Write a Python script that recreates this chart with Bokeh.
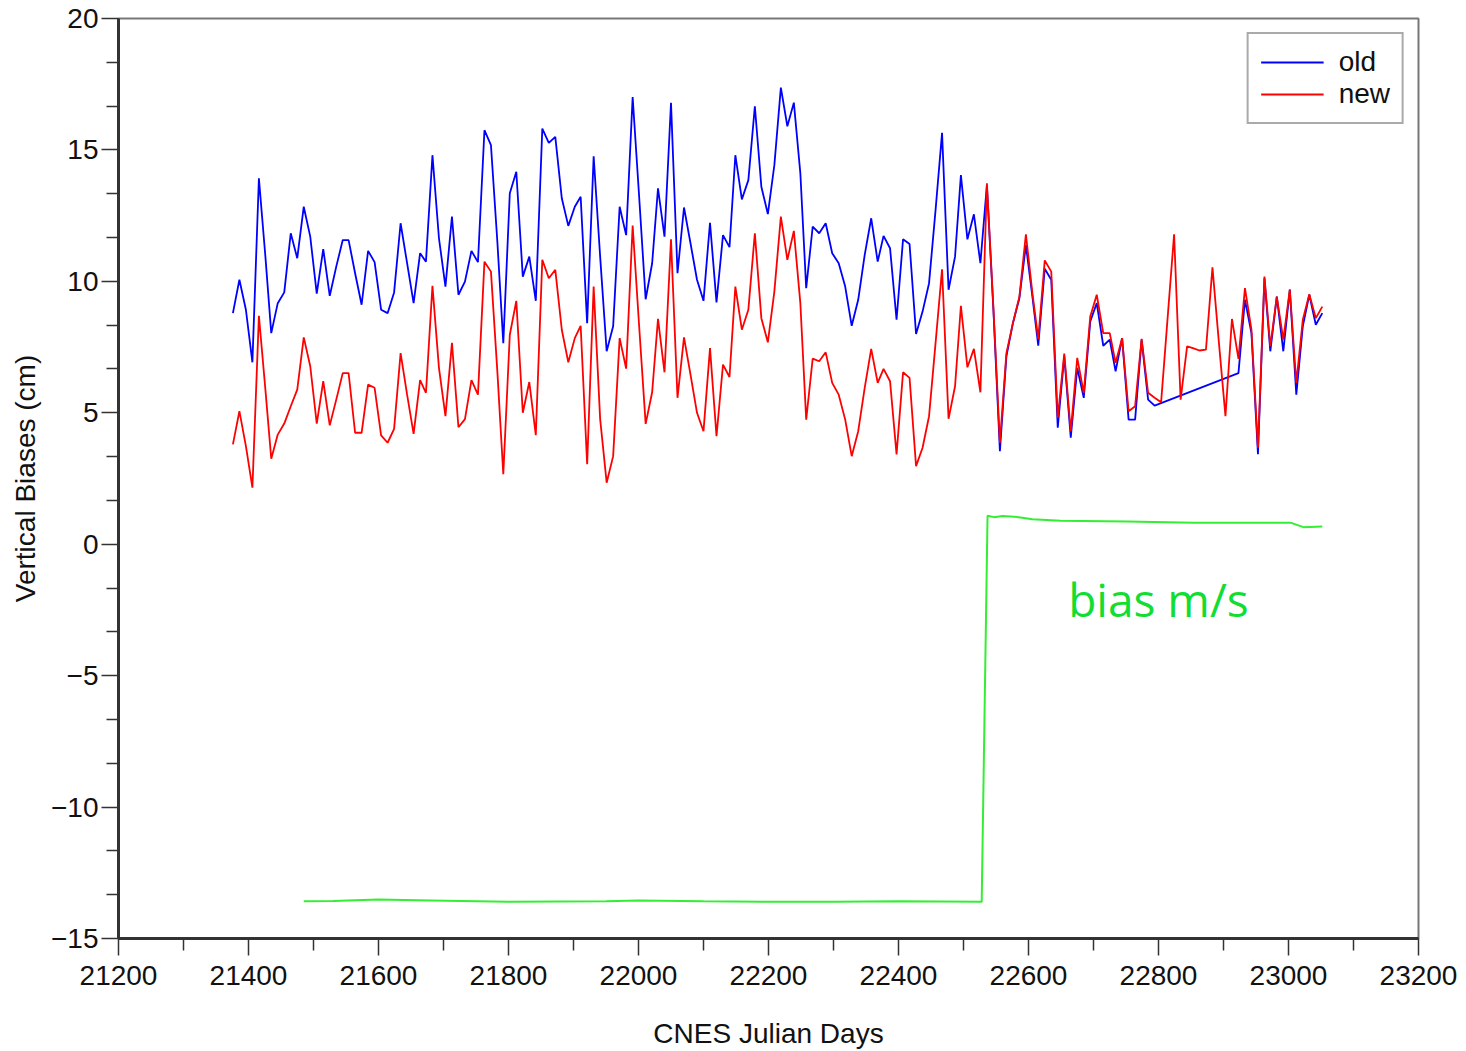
from bokeh.plotting import figure
from bokeh.models import FixedTicker, Label, Range1d
from bokeh.embed import file_html
from bokeh.resources import INLINE

# ---------------- data ----------------
new_days = [21376, 21386, 21396, 21406, 21416, 21426, 21435, 21445, 21455, 21465,
            21475, 21485, 21495, 21505, 21515, 21525, 21535, 21545, 21554, 21564,
            21574, 21584, 21594, 21604, 21614, 21624, 21634, 21644, 21654, 21664,
            21673, 21683, 21693, 21703, 21713, 21723, 21733, 21743, 21753, 21763,
            21773, 21783, 21792, 21802, 21812, 21822, 21832, 21842, 21852, 21862,
            21872, 21882, 21892, 21902, 21911, 21921, 21931, 21941, 21951, 21961,
            21971, 21981, 21991, 22001, 22011, 22021, 22030, 22040, 22050, 22060,
            22070, 22080, 22090, 22100, 22110, 22120, 22130, 22140, 22149, 22159,
            22169, 22179, 22189, 22199, 22209, 22219, 22229, 22239, 22249, 22258,
            22268, 22278, 22288, 22298, 22308, 22318, 22328, 22338, 22348, 22358,
            22368, 22377, 22387, 22397, 22407, 22417, 22427, 22437, 22447, 22457,
            22467, 22477, 22487, 22496, 22506, 22516, 22526, 22536, 22546, 22556,
            22566, 22576, 22586, 22596, 22606, 22615, 22625, 22635, 22645, 22655,
            22665, 22675, 22685, 22695, 22705, 22715, 22725, 22734, 22744, 22754,
            22764, 22774, 22784, 22794, 22804, 22814, 22824, 22834, 22844, 22853,
            22863, 22873, 22883, 22893, 22903, 22913, 22923, 22933, 22943, 22953,
            22963, 22972, 22982, 22992, 23002, 23012, 23022, 23032, 23042, 23052]

new_bias = [3.80, 5.06, 3.73, 2.15, 8.69, 5.88, 3.25, 4.17, 4.59, 5.25,
            5.88, 7.87, 6.77, 4.59, 6.20, 4.52, 5.50, 6.51, 6.51, 4.24,
            4.24, 6.07, 5.95, 4.14, 3.86, 4.39, 7.27, 5.69, 4.20, 6.24,
            5.76, 9.83, 6.71, 4.87, 7.66, 4.45, 4.76, 6.24, 5.69, 10.75,
            10.37, 6.51, 2.66, 7.97, 9.26, 5.00, 6.17, 4.15, 10.82, 10.12,
            10.44, 8.16, 6.92, 7.84, 8.31, 3.04, 9.80, 4.76, 2.34, 3.35,
            7.84, 6.68, 12.12, 8.29, 4.58, 5.78, 8.57, 6.54, 11.60, 5.57,
            7.87, 6.45, 5.00, 4.30, 7.46, 4.11, 6.83, 6.36, 9.80, 8.16,
            8.92, 11.83, 8.60, 7.68, 9.61, 12.46, 10.82, 11.92, 9.17, 4.74,
            7.06, 6.96, 7.30, 6.14, 5.69, 4.74, 3.35, 4.30, 5.95, 7.43,
            6.14, 6.67, 6.20, 3.42, 6.54, 6.33, 2.97, 3.67, 4.87, 7.65,
            10.46, 4.77, 6.01, 9.07, 6.73, 7.43, 5.78, 13.73, 9.00, 3.86,
            7.27, 8.41, 9.42, 11.79, 9.55, 7.81, 10.80, 10.37, 4.81, 7.25,
            4.30, 7.09, 5.76, 8.66, 9.49, 8.03, 8.03, 6.90, 7.84, 5.06,
            5.25, 7.81, 5.76, 5.57, 5.40, 8.60, 11.79, 5.50, 7.53, 7.46,
            7.37, 7.40, 10.53, 7.65, 4.87, 8.57, 7.05, 9.74, 8.16, 3.67,
            10.18, 7.53, 9.42, 7.78, 9.70, 6.14, 8.54, 9.51, 8.60, 9.04]

old_days = [21376, 21386, 21396, 21406, 21416, 21426, 21435, 21445, 21455, 21465,
            21475, 21485, 21495, 21505, 21515, 21525, 21535, 21545, 21554, 21564,
            21574, 21584, 21594, 21604, 21614, 21624, 21634, 21644, 21654, 21664,
            21673, 21683, 21693, 21703, 21713, 21723, 21733, 21743, 21753, 21763,
            21773, 21783, 21792, 21802, 21812, 21822, 21832, 21842, 21852, 21862,
            21872, 21882, 21892, 21902, 21911, 21921, 21931, 21941, 21951, 21961,
            21971, 21981, 21991, 22001, 22011, 22021, 22030, 22040, 22050, 22060,
            22070, 22080, 22090, 22100, 22110, 22120, 22130, 22140, 22149, 22159,
            22169, 22179, 22189, 22199, 22209, 22219, 22229, 22239, 22249, 22258,
            22268, 22278, 22288, 22298, 22308, 22318, 22328, 22338, 22348, 22358,
            22368, 22377, 22387, 22397, 22407, 22417, 22427, 22437, 22447, 22457,
            22467, 22477, 22487, 22496, 22506, 22516, 22526, 22536, 22546, 22556,
            22566, 22576, 22586, 22596, 22606, 22615, 22625, 22635, 22645, 22655,
            22665, 22675, 22685, 22695, 22705, 22715, 22725, 22734, 22744, 22754,
            22764, 22774, 22784, 22794,
            22923, 22933, 22943, 22953,
            22963, 22972, 22982, 22992, 23002, 23012, 23022, 23032, 23042, 23052]

old_bias = [8.79, 10.06, 8.92, 6.92, 13.92, 10.94, 8.03, 9.17, 9.58, 11.83,
            10.88, 12.84, 11.70, 9.53, 11.23, 9.45, 10.56, 11.57, 11.57, 10.31,
            9.11, 11.16, 10.73, 8.92, 8.79, 9.58, 12.21, 10.69, 9.17, 11.07,
            10.75, 14.80, 11.64, 9.80, 12.46, 9.49, 9.99, 11.16, 10.73, 15.75,
            15.18, 11.45, 7.65, 13.35, 14.17, 10.18, 10.94, 9.26, 15.81, 15.27,
            15.50, 13.16, 12.11, 12.84, 13.22, 8.41, 14.76, 10.94, 7.34, 8.29,
            12.84, 11.76, 17.01, 13.22, 9.32, 10.69, 13.54, 11.70, 16.79, 10.31,
            12.81, 11.45, 10.06, 9.26, 12.23, 9.20, 11.76, 11.30, 14.80, 13.12,
            13.85, 16.66, 13.60, 12.56, 14.42, 17.37, 15.90, 16.80, 14.11, 9.74,
            12.08, 11.83, 12.21, 11.07, 10.69, 9.80, 8.31, 9.30, 11.01, 12.40,
            10.75, 11.73, 11.26, 8.54, 11.60, 11.42, 8.00, 8.85, 9.93, 12.71,
            15.65, 9.68, 10.94, 14.04, 11.60, 12.55, 10.69, 13.66, 8.92, 3.54,
            7.15, 8.41, 9.36, 11.38, 9.42, 7.55, 10.48, 10.06, 4.43, 7.15,
            4.05, 6.71, 5.57, 8.47, 9.17, 7.55, 7.78, 6.58, 7.84, 4.74,
            4.74, 7.78, 5.50, 5.27,
            6.51, 9.30, 8.03, 3.42,
            10.12, 7.34, 9.42, 7.34, 9.68, 5.69, 8.29, 9.49, 8.35, 8.79]

speed_days = [21485, 21530, 21600, 21680, 21800, 21950, 22000, 22100, 22200, 22300,
              22400, 22528, 22537, 22547, 22560, 22585, 22606, 22649, 22752, 22854,
              23003, 23023, 23052]
speed_bias = [-13.58, -13.57, -13.52, -13.55, -13.60, -13.58, -13.55, -13.58, -13.60, -13.60,
              -13.58, -13.60, 1.08, 1.03, 1.07, 1.03, 0.95, 0.89, 0.86, 0.82,
              0.82, 0.65, 0.67]

x_major = [21200, 21400, 21600, 21800, 22000, 22200, 22400, 22600, 22800, 23000, 23200]
x_minor = [21300, 21500, 21700, 21900, 22100, 22300, 22500, 22700, 22900, 23100]
y_major = [-15, -10, -5, 0, 5, 10, 15, 20]

FONT = "Liberation Sans"

p = figure(width=1466, height=1051, output_backend="svg", toolbar_location=None,
           x_range=Range1d(21200, 23200), y_range=Range1d(-15, 20),
           min_border_left=118, min_border_right=48, min_border_top=18,
           min_border_bottom=113, background_fill_color="white",
           border_fill_color="white")

p.xgrid.visible = False
p.ygrid.visible = False
p.outline_line_color = "#777777"
p.outline_line_width = 2

y_minor = []
for a, b in zip(y_major[:-1], y_major[1:]):
    y_minor += [a + (b - a) / 3.0, a + 2 * (b - a) / 3.0]

p.xaxis.ticker = FixedTicker(ticks=x_major, minor_ticks=x_minor)
p.yaxis.ticker = FixedTicker(ticks=y_major, minor_ticks=y_minor)
p.yaxis.major_label_overrides = {-5: "\u22125", -10: "\u221210", -15: "\u221215"}

for ax in (p.xaxis[0], p.yaxis[0]):
    ax.axis_line_width = 3
    ax.axis_line_color = "#333333"
    ax.major_tick_line_color = "#333333"
    ax.minor_tick_line_color = "#333333"
    ax.major_tick_line_width = 1.5
    ax.minor_tick_line_width = 1.5
    ax.major_tick_in = 0
    ax.major_tick_out = 17
    ax.minor_tick_in = 0
    ax.minor_tick_out = 12
    ax.major_label_text_font = FONT
    ax.major_label_text_font_size = "28px"
    ax.major_label_text_color = "#111111"
    ax.axis_label_text_font = FONT
    ax.axis_label_text_font_size = "28px"
    ax.axis_label_text_font_style = "normal"
    ax.axis_label_text_color = "#111111"

p.xaxis.axis_label = "CNES Julian Days"
p.yaxis.axis_label = "Vertical Biases (cm)"
p.xaxis.major_label_standoff = 10
p.xaxis.axis_label_standoff = 30
p.yaxis.major_label_standoff = 3
p.yaxis.axis_label_standoff = 7

p.line(old_days, old_bias, line_color="#0000ff", line_width=1.8, legend_label="old")
p.line(new_days, new_bias, line_color="#ff0000", line_width=1.8, legend_label="new")
p.line(speed_days, speed_bias, line_color="#33ee33", line_width=2)

p.add_layout(Label(x=22661, y=-2.1, text="bias m/s", text_font="Open Sans",
                   text_font_size="46px", text_color="#11dd33",
                   text_baseline="middle", text_align="left"))

lg = p.legend[0]
lg.location = "top_right"
lg.margin = 14
lg.padding = 12
lg.spacing = 0
lg.glyph_width = 63
lg.glyph_height = 28
lg.label_height = 28
lg.label_standoff = 15
lg.label_text_font = FONT
lg.label_text_font_size = "28px"
lg.label_text_color = "#111111"
lg.border_line_color = "#555555"
lg.border_line_width = 2
lg.background_fill_color = "white"
lg.background_fill_alpha = 1.0

open("out.html", "w").write(file_html(p, INLINE))
